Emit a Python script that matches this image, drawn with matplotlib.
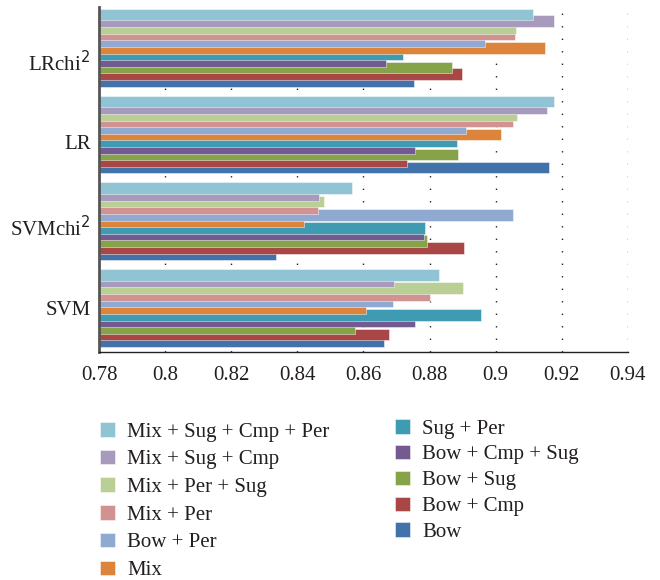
import matplotlib
matplotlib.use("Agg")
import matplotlib.pyplot as plt
import numpy as np

plt.rcParams['font.family'] = ['Liberation Serif', 'DejaVu Serif']

models = ["SVM", "SVMchi$^2$", "LR", "LRchi$^2$"]
series = ["Bow", "Bow + Cmp", "Bow + Sug", "Bow + Cmp + Sug", "Sug + Per", "Mix",
          "Bow + Per", "Mix + Per", "Mix + Per + Sug", "Mix + Sug + Cmp",
          "Mix + Sug + Cmp + Per"]
# values per series: SVM, SVMchi2, LR, LRchi2
bow = [0.8662, 0.8334, 0.9162, 0.8754]
bow_cmp = [0.8676, 0.8904, 0.8732, 0.8897]
bow_sug = [0.8574, 0.8792, 0.8885, 0.8869]
bow_cmp_sug = [0.8756, 0.8784, 0.8756, 0.8667]
sug_per = [0.8956, 0.8787, 0.8883, 0.8720]
mix = [0.8608, 0.8419, 0.9015, 0.9150]
bow_per = [0.8688, 0.9051, 0.8911, 0.8969]
mix_per = [0.8802, 0.8461, 0.9053, 0.9058]
mix_per_sug = [0.8901, 0.8481, 0.9064, 0.9062]
mix_sug_cmp = [0.8691, 0.8464, 0.9156, 0.9175]
mix_sug_cmp_per = [0.8828, 0.8566, 0.9176, 0.9114]
values = [bow, bow_cmp, bow_sug, bow_cmp_sug, sug_per, mix, bow_per, mix_per,
          mix_per_sug, mix_sug_cmp, mix_sug_cmp_per]
xticks = [0.78, 0.80, 0.82, 0.84, 0.86, 0.88, 0.90, 0.92, 0.94]
xticklabels = ["0.78", "0.8", "0.82", "0.84", "0.86", "0.88", "0.9", "0.92", "0.94"]

colors = ["#4272A9", "#A84746", "#87A34A", "#735A91", "#3F9BB1", "#DC843C",
          "#8FA9D0", "#D19391", "#BACF96", "#A89ABD", "#90C3D4"]

fig = plt.figure(figsize=(6.6, 5.8), dpi=100)
ax = fig.add_axes([0.15, 0.3931, 0.8015, 0.5949])

n = len(series)
step = 0.0763
h = 0.134
y0 = np.arange(len(models))
handles = []
for i, (vals, c) in enumerate(zip(values, colors)):
    b = ax.barh(y0 + (i - (n - 1) / 2) * step, vals, height=h, color=c,
                edgecolor=(1, 1, 1, 0.55), linewidth=0.6, zorder=2 + i * 0.01,
                label=series[i])
    handles.append(b)

ax.set_xlim(0.78, 0.94)
ax.set_ylim(-0.505, 3.47)
ax.set_xticks(xticks)
ax.set_xticklabels(xticklabels, fontsize=15, color="#231F20")
label_shift = np.array([0.0, 0.06, 0.08, 0.155])
ax.set_yticks(y0 - label_shift)
ax.set_yticklabels(models, fontsize=15, color="#231F20")
ax.tick_params(axis='both', length=0)
ax.tick_params(axis='x', pad=10)
ax.tick_params(axis='y', pad=6)

for x in xticks[1:]:
    ax.axvline(x, color="#222222", linewidth=1.0, linestyle=(0, (1, 8)), zorder=1)

for s in ["top", "right"]:
    ax.spines[s].set_visible(False)
ax.spines["left"].set_color("#555555")
ax.spines["left"].set_linewidth(2.0)
ax.spines["bottom"].set_color("#222222")
ax.spines["bottom"].set_linewidth(1.0)

left_idx = [10, 9, 8, 7, 6, 5]
right_idx = [4, 3, 2, 1, 0]
common = dict(frameon=False, fontsize=15, handlelength=0.7, handleheight=0.7,
              handletextpad=0.6, borderpad=0, borderaxespad=0, loc="upper left")
leg1 = fig.legend([handles[i] for i in left_idx], [series[i] for i in left_idx],
                  bbox_to_anchor=(100 / 660, 1 - 422 / 580), labelspacing=0.39, **common)
leg2 = fig.legend([handles[i] for i in right_idx], [series[i] for i in right_idx],
                  bbox_to_anchor=(395 / 660, 1 - 419 / 580), labelspacing=0.30, **common)
for leg in (leg1, leg2):
    for t in leg.get_texts():
        t.set_color("#231F20")

fig.savefig("out.png", dpi=100)
